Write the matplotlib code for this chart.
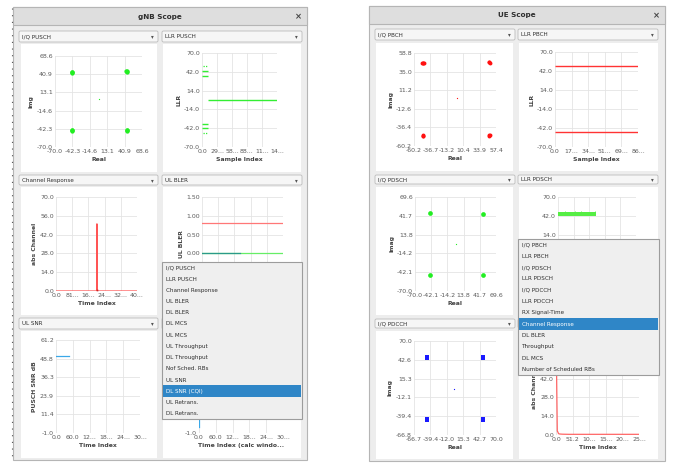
import matplotlib
matplotlib.use('Agg')
import matplotlib.pyplot as plt
from matplotlib.patches import Rectangle, FancyBboxPatch

# ---- data ----
# gNB: I/Q PUSCH constellation
pusch_re = [-43.0, -42.2, -43.6, 43.2, 44.0, 44.6, -43.1, -42.4, -43.7, 44.2, 44.9, 44.4]
pusch_im = [44.2, 43.5, 43.0, 45.1, 44.4, 45.8, -44.3, -45.2, -44.8, -43.6, -44.7, -45.4]
pusch_ctr = (0.7, 2.6)
iq_pusch_ticks = [-70.0, -42.3, -14.6, 13.1, 40.9, 68.6]

# gNB: LLR PUSCH  (level, x start, x end)
llr_pusch_solid = [(43.0, 0, 11), (36.0, 0, 11), (-36.0, 0, 11), (-42.0, 0, 11), (0.0, 11, 146.4)]
llr_pusch_dotted = [(50.0, 2, 9), (-49.5, 2, 9)]
llr_ticks = [70.0, 42.0, 14.0, -14.0, -42.0, -70.0]
llr_pusch_xt = [0, 29.3, 58.6, 87.8, 117.1, 146.4]
llr_pusch_xl = ["0.0", "29...", "58...", "88...", "11...", "14..."]

# gNB: channel response
chan_x = [0, 206, 207, 208, 409.6]
chan_y = [0, 0, 50, 0, 0]
chan_yt = [0.0, 14.0, 28.0, 42.0, 56.0, 70.0]
chan_xt = [0, 81.9, 163.8, 245.8, 327.7, 409.6]
chan_xl = ["0.0", "81...", "16...", "24...", "32...", "40..."]

# gNB: UL BLER
bler_red = ([0, 300], [0.8, 0.8])
bler_green = ([0, 300], [0.0, 0.0])
bler_teal = ([0, 140], [0.0, 0.0])
bler_yt = [-1.0, -0.5, 0.0, 0.5, 1.0, 1.5]
bler_yl = ["", "", "0.00", "0.50", "1.00", "1.50"]   # lower ones hidden by the open list

# gNB: UL SNR / DL SNR
snr_x = [0, 48]
snr_y = [50.8, 50.8]
dlsnr_x = [1, 1]
dlsnr_y = [20.0, 3.0]
snr_yt = [-1.0, 11.4, 23.9, 36.3, 48.8, 61.2]
time_xt = [0, 60, 120, 180, 240, 300]
time_xl = ["0.0", "60.0", "12...", "18...", "24...", "30..."]

# UE: I/Q PBCH
pbch_re = [-49.0, -48.0, -47.0, -46.0, 47.6, 47.9, 48.2, -47.5, -47.0, -46.6, 47.6, 48.1, 47.8]
pbch_im = [46.3, 45.8, 46.1, 45.9, 47.6, 46.7, 46.0, -47.0, -48.0, -46.6, -46.1, -45.6, -46.8]
pbch_ctr = (1.2, 1.0)
pbch_xt = [-60.2, -36.7, -13.2, 10.4, 33.9, 57.4]
pbch_yt = [-60.2, -36.4, -12.6, 11.2, 35.0, 58.8]

# UE: LLR PBCH
llr_pbch_levels = [49.0, -48.0]
llr_pbch_xt = [0, 17.3, 34.6, 51.8, 69.1, 86.4]
llr_pbch_xl = ["0.0", "17...", "34...", "51...", "69...", "86..."]

# UE: I/Q PDSCH
pdsch_re = [-44.5, 46.5, -44.5, 46.5]
pdsch_im = [45.2, 45.0, -46.0, -46.1]
pdsch_ctr = (0.0, 0.5)
pdsch_xt = [-70.0, -42.1, -14.2, 13.8, 41.7, 69.6]

# UE: LLR PDSCH (dense band + a few spikes)
llr_pdsch_band = ([0, 49], [41.5, 41.5], [47.0, 47.0])
llr_pdsch_spikes = [9, 22, 30, 47]
llr_pdsch_yl = ["70.0", "42.0", "14.0", "", "", ""]

# UE: I/Q PDCCH
pdcch_re = [-45.0, -44.6, 48.0, 48.4, -45.0, -44.6, 48.0, 48.4]
pdcch_im = [45.6, 47.0, 45.6, 47.2, -43.6, -44.6, -43.4, -44.8]
pdcch_ctr = (0.0, 0.2)
pdcch_xt = [-66.7, -39.4, -12.0, 15.3, 42.7, 70.0]
pdcch_yt = [-66.8, -39.4, -12.1, 15.3, 42.6, 70.0]

# UE: channel response
uechan_x = [0, 1, 2, 3, 4, 5, 6, 7, 8, 10, 14, 20, 40, 80, 160, 256]
uechan_y = [70, 60, 42, 22, 3.0, 2.4, 2.2, 1.4, 1.0, 0.8, 0.7, 0.6, 0.5, 0.5, 0.5, 0.5]
uechan_xt = [0, 51.2, 102.4, 153.6, 204.8, 256]
uechan_xl = ["0.0", "51.2", "10...", "15...", "20...", "25..."]
uechan_yl = ["0.0", "14.0", "28.0", "42.0", "", ""]

gnb_items = ["I/Q PUSCH", "LLR PUSCH", "Channel Response", "UL BLER", "DL BLER", "DL MCS",
             "UL MCS", "UL Throughput", "DL Throughput", "Nof Sched. RBs", "UL SNR",
             "DL SNR (CQI)", "UL Retrans.", "DL Retrans."]
ue_items = ["I/Q PBCH", "LLR PBCH", "I/Q PDSCH", "LLR PDSCH", "I/Q PDCCH", "LLR PDCCH",
            "RX Signal-Time", "Channel Response", "DL BLER", "Throughput", "DL MCS",
            "Number of Scheduled RBs"]

# ---- figure in pixel coordinates ----
W, H = 673, 463
fig = plt.figure(figsize=(W / 100, H / 100), dpi=100)
fig.patch.set_facecolor('white')
TXT = '#2e2e2e'


def box(x0, y0, x1, y1, z=1):
    return fig.add_axes([x0 / W, 1 - y1 / H, (x1 - x0) / W, (y1 - y0) / H], zorder=z)


bg = box(0, 0, W, H, z=0)
bg.set_xlim(0, W)
bg.set_ylim(H, 0)
bg.axis('off')

ov = box(0, 0, W, H, z=10)
ov.set_xlim(0, W)
ov.set_ylim(H, 0)
ov.axis('off')
ov.patch.set_alpha(0)

# window behind gNB scope (dark dotted edge)
bg.plot([12, 12], [8, 460], color='#555555', lw=0.8, ls=(0, (1, 5)))


def window(x0, y0, x1, y1, title, tx):
    bg.add_patch(Rectangle((x0, y0), x1 - x0, y1 - y0, fc='#ededed', ec='#b5b5b5', lw=0.8))
    bg.add_patch(Rectangle((x0, y0), x1 - x0, 18, fc='#dedede', ec='#b5b5b5', lw=0.8))
    bg.text(tx, y0 + 9.5, title, fontsize=5.2, fontweight='bold', color=TXT, ha='center', va='center')
    bg.text(x1 - 9, y0 + 9.5, '×', fontsize=6, fontweight='bold', color='#444444', ha='center', va='center')


def combo(x0, y0, x1, y1, label):
    bg.add_patch(FancyBboxPatch((x0, y0), x1 - x0, y1 - y0, boxstyle='round,pad=0,rounding_size=1.5',
                                fc='#f6f6f6', ec='#bcbcbc', lw=0.6))
    if label:
        bg.text(x0 + 3, (y0 + y1) / 2 + 0.3, label, fontsize=4.1, color=TXT, va='center')
    bg.text(x1 - 6, (y0 + y1) / 2 + 0.3, '▾', fontsize=4, color='#555555', ha='center', va='center')


def panel(x0, y0, x1, y1):
    bg.add_patch(Rectangle((x0, y0), x1 - x0, y1 - y0, fc='white', ec='none'))


def scope(rect, xlim, ylim, xt, xl, yt, yl, xlabel, ylabel):
    ax = box(*rect, z=2)
    ax.set_xlim(xlim)
    ax.set_ylim(ylim)
    ax.set_xticks(xt)
    ax.set_xticklabels(xl)
    ax.set_yticks(yt)
    ax.set_yticklabels(yl)
    ax.grid(True, color='#e4e4e4', lw=0.6)
    ax.set_axisbelow(True)
    for s in ax.spines.values():
        s.set_visible(False)
    ax.tick_params(length=0, labelsize=4.5, labelcolor='#5a5a5a', pad=1.5)
    ax.set_xlabel(xlabel, fontsize=4.4, fontweight='bold', color='#444444', labelpad=2)
    ax.set_ylabel(ylabel, fontsize=4.4, fontweight='bold', color='#444444', labelpad=2)
    return ax


def fmt(v):
    return ['%.1f' % t for t in v]


def dropdown(x0, y0, x1, y1, items, sel):
    ov.add_patch(Rectangle((x0, y0), x1 - x0, y1 - y0, fc='#efefef', ec='#9c9c9c', lw=0.8))
    h = (y1 - y0) / len(items)
    for i, t in enumerate(items):
        yy = y0 + i * h
        if i == sel:
            ov.add_patch(Rectangle((x0 + 0.6, yy), x1 - x0 - 1.2, h, fc='#2f86c7', ec='none'))
        ov.text(x0 + 4, yy + h / 2 + 0.3, t, fontsize=4.1, va='center',
                color='white' if i == sel else TXT)


# ---- gNB scope ----
window(13, 7, 307, 460, 'gNB Scope', 160)
for (y0, y1), (la, lb) in zip([(31, 42), (175, 185), (318, 329)],
                              [('I/Q PUSCH', 'LLR PUSCH'), ('Channel Response', 'UL BLER'),
                               ('UL SNR', '')]):
    combo(19, y0, 158, y1, la)
    combo(162, y0, 302, y1, lb)
for y0, y1 in [(44, 172), (187, 315), (331, 458)]:
    panel(21, y0, 157, y1)
    panel(163, y0, 301, y1)

ax = scope((55, 56, 142, 147), (-70, 68.6), (-70, 68.6), iq_pusch_ticks, fmt(iq_pusch_ticks),
           iq_pusch_ticks, fmt(iq_pusch_ticks), 'Real', 'Img')
ax.plot(pusch_re, pusch_im, 'o', color='#22ee22', ms=3.1, mew=0)
ax.plot(*pusch_ctr, 'o', color='#22ee22', ms=0.9, mew=0)

ax = scope((202, 53, 277, 147), (0, 146.4), (-70, 70), llr_pusch_xt, llr_pusch_xl,
           llr_ticks, fmt(llr_ticks), 'Sample Index', 'LLR')
for lev, a, b in llr_pusch_solid:
    ax.hlines(lev, a, b, color='#33ee33', lw=1.0)
for lev, a, b in llr_pusch_dotted:
    ax.hlines(lev, a, b, color='#33ee33', lw=0.9, ls=(0, (1, 1)))

ax = scope((56, 197, 137, 291), (0, 409.6), (0, 70), chan_xt, chan_xl,
           chan_yt, fmt(chan_yt), 'Time Index', 'abs Channel')
ax.plot(chan_x, chan_y, color='#ff5555', lw=0.9)
ax.plot(207, 0.8, 's', color='#cc2222', ms=1.2, mew=0)

ax = scope((202, 197, 283, 291), (0, 300), (-1.0, 1.5), time_xt, [''] * 6,
           bler_yt, bler_yl, '', 'UL BLER')
ax.plot(*bler_red, color='#ff7777', lw=0.9)
ax.plot(*bler_green, color='#66ee66', lw=0.9)
ax.plot(*bler_teal, color='#2a9a8a', lw=0.9)

ax = scope((56, 340, 140, 433), (0, 300), (-1.0, 61.2), time_xt, time_xl,
           snr_yt, fmt(snr_yt), 'Time Index', 'PUSCH SNR dB')
ax.plot(snr_x, snr_y, color='#3aa8e8', lw=0.9)

ax = scope((199, 340, 283, 433), (0, 300), (-1.0, 61.2), time_xt, time_xl,
           snr_yt, ['-1.0', '', '', '', '', ''], 'Time Index (calc windo...', '')
ax.plot(dlsnr_x, dlsnr_y, color='#3aa8e8', lw=0.9)

dropdown(162, 262, 302, 419, gnb_items, 11)

# ---- UE scope ----
window(369, 6, 665, 461, 'UE Scope', 517)
for (y0, y1), (la, lb) in zip([(29, 40), (175, 184), (319, 328)],
                              [('I/Q PBCH', 'LLR PBCH'), ('I/Q PDSCH', 'LLR PDSCH'),
                               ('I/Q PDCCH', '')]):
    combo(375, y0, 515, y1, la)
    combo(518, y0, 658, y1, lb)
for y0, y1 in [(43, 171), (187, 315), (331, 459)]:
    panel(376, y0, 513, y1)
    panel(519, y0, 658, y1)

ax = scope((414, 53, 496, 146), (-60.2, 57.4), (-60.2, 58.8), pbch_xt, fmt(pbch_xt),
           pbch_yt, fmt(pbch_yt), 'Real', 'Imag')
ax.plot(pbch_re, pbch_im, 'o', color='#ff1111', ms=2.8, mew=0)
ax.plot(*pbch_ctr, 'o', color='#ff1111', ms=0.9, mew=0)

ax = scope((555, 52, 638, 147), (0, 86.4), (-70, 70), llr_pbch_xt, llr_pbch_xl,
           llr_ticks, fmt(llr_ticks), 'Sample Index', 'LLR')
for lev in llr_pbch_levels:
    ax.hlines(lev, 0, 86.4, color='#ff3333', lw=1.0)

ax = scope((415, 197, 496, 291), (-70, 69.6), (-70, 69.6), pdsch_xt, fmt(pdsch_xt),
           pdsch_xt, fmt(pdsch_xt), 'Real', 'Imag')
ax.plot(pdsch_re, pdsch_im, 'o', color='#22ee22', ms=3.4, mew=0)
ax.plot(*pdsch_ctr, 'o', color='#22ee22', ms=0.9, mew=0)

ax = scope((558, 197, 636, 291), (0, 100), (-70, 70), [0, 20, 40, 60, 80, 100],
           [''] * 6, llr_ticks, llr_pdsch_yl, '', 'LLR')
ax.fill_between(*llr_pdsch_band, color='#55ee44', lw=0)
ax.vlines(llr_pdsch_spikes, 46, 49.5, color='#55ee44', lw=0.6)

ax = scope((414, 341, 496, 435), (-66.7, 70), (-66.8, 70), pdcch_xt, fmt(pdcch_xt),
           pdcch_yt, fmt(pdcch_yt), 'Real', 'Imag')
ax.plot(pdcch_re, pdcch_im, 's', color='#1a1aff', ms=2.3, mew=0)
ax.plot(*pdcch_ctr, 's', color='#1a1aff', ms=0.8, mew=0)

ax = scope((556, 341, 639, 435), (0, 256), (0, 70), uechan_xt, uechan_xl,
           chan_yt, uechan_yl, 'Time Index', 'abs Channel')
ax.plot(uechan_x, uechan_y, color='#ff6666', lw=0.9)

dropdown(518, 239, 659, 375, ue_items, 7)

fig.savefig('out.png', dpi=100, facecolor='white')
